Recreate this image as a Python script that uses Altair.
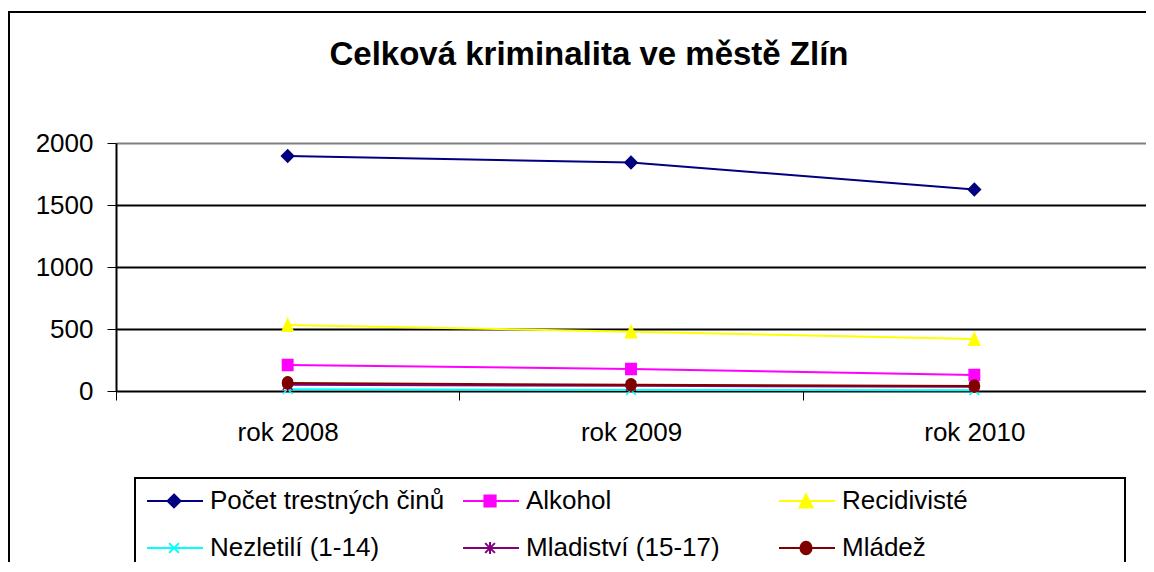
import altair as alt
import pandas as pd

years = [2008, 2009, 2010]
year_labels = ["rok 2008", "rok 2009", "rok 2010"]
series = ["Počet trestných činů", "Alkohol", "Recidivisté",
          "Nezletilí (1-14)", "Mladiství (15-17)", "Mládež"]
pocet = [1895, 1843, 1625]
alkohol = [210, 177, 129]
recidiviste = [532, 478, 419]
nezletili = [15, 8, 6]
mladistvi = [50, 42, 34]
mladez = [65, 50, 40]
values = [pocet, alkohol, recidiviste, nezletili, mladistvi, mladez]
colors = ["#000080", "#FF00FF", "#FFFF00", "#00FFFF", "#800080", "#800000"]
y_ticks = [0, 500, 1000, 1500, 2000]

FONT = "Liberation Sans"

rows = []
for s, vals in zip(series, values):
    for yr, v in zip(years, vals):
        rows.append({"series": s, "year": yr, "value": v})
df = pd.DataFrame(rows)

# marker shapes for plot points (unit coords)
marker_paths = [
    "M0,-1L1,0L0,1L-1,0Z",
    "M-0.85,-0.9H0.85V0.9H-0.85Z",
    "M0,-1L0.9,1H-0.9Z",
    "M-0.8,-0.8L0.8,0.8M-0.8,0.8L0.8,-0.8",
    "M-0.8,-0.8L0.8,0.8M-0.8,0.8L0.8,-0.8M0,-1V1",
    "M-0.85,0A0.85,1 0 1,0 0.85,0A0.85,1 0 1,0 -0.85,0Z",
]

# legend symbols: line + marker (unit = 14px)
c = 0.93
h = 0.46
def lg(marker):
    return "M-1,0H3" + marker
legend_paths = [
    lg(f"M{c},{-h}L{c+h},0L{c},{h}L{c-h},0Z"),
    lg(f"M{c-0.4},-0.4H{c+0.4}V0.4H{c-0.4}Z"),
    lg(f"M{c},{-h}L{c+h},{h}H{c-h}Z"),
    lg(f"M{c-0.35},-0.35L{c+0.35},0.35M{c-0.35},0.35L{c+0.35},-0.35"),
    lg(f"M{c-0.35},-0.35L{c+0.35},0.35M{c-0.35},0.35L{c+0.35},-0.35M{c},-0.42V0.42"),
    lg(f"M{c-0.4},0A0.4,0.45 0 1,0 {c+0.4},0A0.4,0.45 0 1,0 {c-0.4},0Z"),
]

label_expr = "".join(f"datum.value === {y} ? '{l}' : " for y, l in zip(years, year_labels)) + "''"

x_vals = [2007.5, 2008, 2008.5, 2009, 2009.5, 2010, 2010.5]

x_enc = alt.X(
    "year:Q",
    scale=alt.Scale(domain=[2007.5, 2010.5], nice=False, zero=False),
    axis=alt.Axis(
        values=x_vals, labelExpr=label_expr, title=None, grid=False,
        labelFont=FONT, labelFontSize=26, labelColor="black",
        labelOverlap=False, labelFlush=False, labelPadding=19,
        tickSize=9, tickColor="black", tickWidth=1,
        tickOpacity={"condition": {"test": "datum.value % 1 === 0", "value": 0}, "value": 1},
        domainColor="black", domainWidth=1,
    ),
)
y_enc = alt.Y(
    "value:Q",
    scale=alt.Scale(domain=[0, 2000], nice=False),
    axis=alt.Axis(
        values=y_ticks, title=None, format="d", labelFont=FONT, labelFontSize=26,
        labelColor="black", labelPadding=14, tickSize=9, tickColor="black",
        domainColor="black", domainWidth=2,
        gridColor={"condition": {"test": "datum.value === 2000", "value": "#808080"}, "value": "black"},
        gridWidth=2,
    ),
)

color_scale = alt.Scale(domain=series, range=colors)

leg = alt.Legend(
    title=None, orient="none", legendX=30, legendY=343, direction="horizontal",
    columns=3, gridAlign="all", columnPadding=14, rowPadding=19,
    labelFont=FONT, labelFontSize=26, labelColor="black",
    labelLimit=500, labelOffset=34, symbolSize=784,
    symbolStrokeWidth=2, padding=0, symbolOpacity=1,
)

legend_driver = alt.Chart(df).transform_filter("datum.value < 0").mark_point(
    filled=True, opacity=1, strokeWidth=2
).encode(
    x=x_enc, y=y_enc,
    color=alt.Color("series:N", scale=color_scale, sort=series, legend=leg),
    stroke=alt.Stroke("series:N", scale=alt.Scale(domain=series, range=colors), legend=leg),
    shape=alt.Shape("series:N", scale=alt.Scale(domain=series, range=legend_paths), legend=leg),
)

lines = alt.Chart(df).mark_line(strokeWidth=2).encode(
    x="year:Q", y="value:Q",
    color=alt.Color("series:N", scale=color_scale, sort=series, legend=leg),
)

point_layers = []
for s, col, path in zip(series, colors, marker_paths):
    point_layers.append(
        alt.Chart(df).transform_filter(alt.datum.series == s).mark_point(
            shape=path, filled=True, fill=col, stroke=col, size=150,
            strokeWidth=1.5, opacity=1,
        ).encode(x="year:Q", y="value:Q")
    )

box = pd.DataFrame({"k": [0]})
outer = alt.Chart(box).mark_rect(fillOpacity=0, stroke="black", strokeWidth=2).encode(
    x=alt.value(-107), x2=alt.value(1060), y=alt.value(-131), y2=alt.value(450)
)
legend_box = alt.Chart(box).mark_rect(fillOpacity=0, stroke="black", strokeWidth=2).encode(
    x=alt.value(19), x2=alt.value(1009), y=alt.value(335), y2=alt.value(450)
)

chart = alt.layer(legend_driver, outer, legend_box, lines, *point_layers).properties(
    width=1030, height=248,
    autosize=alt.AutoSizeParams(type="none"),
    padding={"left": 108, "top": 135, "right": 0, "bottom": 171},
    title=alt.Title(
        "Celková kriminalita ve městě Zlín", font=FONT, fontSize=33,
        fontWeight="bold", color="black", anchor="middle", frame="group",
        dx=-42, offset=-61,
    ),
).configure_view(
    fill="#C0C0C0", stroke="#808080", strokeWidth=2
).configure(background="white")

chart.save("out.html", embed_options={"renderer": "svg", "actions": False})
